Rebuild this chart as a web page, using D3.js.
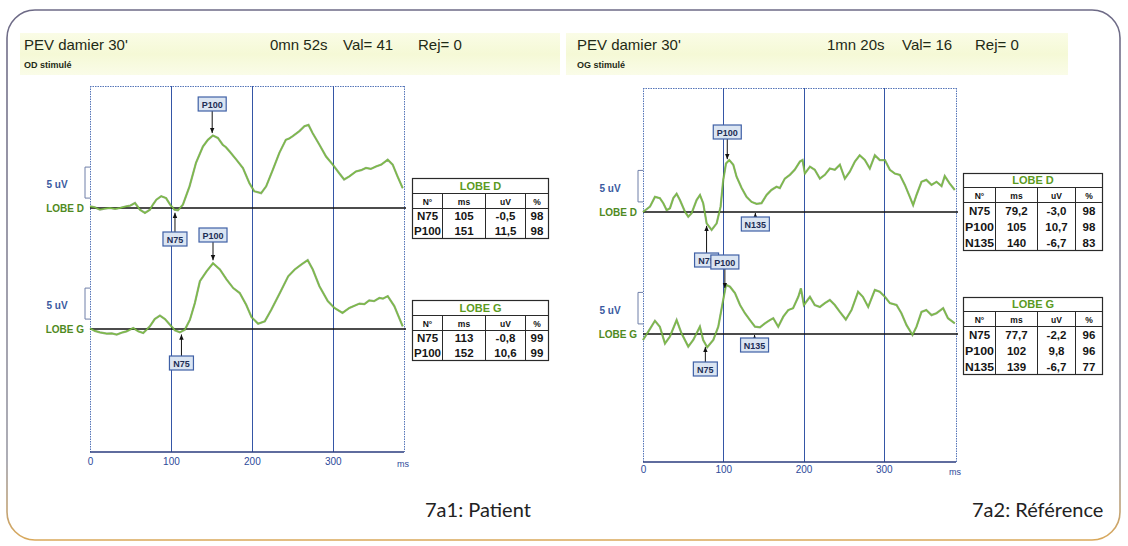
<!DOCTYPE html>
<html><head><meta charset="utf-8">
<script src="https://cdn.jsdelivr.net/npm/d3@7"></script>
<style>body{margin:0;background:#fff}svg{display:block}</style>
</head><body><svg id="c" width="1128" height="546"></svg>
<script>
// ---- Recording headers ----
const headerPatient = ["PEV damier 30'", "0mn 52s", "Val= 41", "Rej= 0", "OD stimulé"];
const headerReference = ["PEV damier 30'", "1mn 20s", "Val= 16", "Rej= 0", "OG stimulé"];
const captions = ["7a1: Patient", "7a2: Référence"];
const tickValues = [0, 100, 200, 300];
const tickUnit = "ms";
const channelNames = ["LOBE D", "LOBE G"];
const calibrationLabel = "5 uV";
const calibrationUv = 5;
const tableHeader = ["N°", "ms", "uV", "%"];

// ---- Peak tables (latency ms, amplitude uV, reproducibility %) ----
const tablePatientD = [["N75", "105", "-0,5", "98"], ["P100", "151", "11,5", "98"]];
const tablePatientG = [["N75", "113", "-0,8", "99"], ["P100", "152", "10,6", "99"]];
const tableReferenceD = [["N75", "79,2", "-3,0", "98"], ["P100", "105", "10,7", "98"], ["N135", "140", "-6,7", "83"]];
const tableReferenceG = [["N75", "77,7", "-2,2", "96"], ["P100", "102", "9,8", "96"], ["N135", "139", "-6,7", "77"]];

// ---- Averaged waveforms: [time ms, amplitude uV] ----
const wavePatientD = [[0,0.27],[6,0.1],[12.3,-0.27],[18,-0.1],[24.7,0],[31,-0.15],[37,0],[45,0.27],[50,0.4],[55.6,0.8],[61.7,-0.27],[67.9,-0.8],[74,-0.27],[78,0.6],[82,1.34],[88,1.9],[94,1.6],[99,0.54],[104.5,-0.27],[108.6,-0.38],[114.8,0.54],[123,3.5],[131,7.3],[139.5,9.9],[145.7,11.0],[151.9,11.7],[158,11.3],[164,10.2],[168,9.8],[172.6,9.1],[180.8,7.8],[189,6.45],[197,4.0],[203,2.7],[211.5,2.4],[217.7,3.5],[226,6.2],[234,8.9],[242,11.0],[246,11.2],[250.6,11.6],[258.8,12.4],[265,13.2],[270,13.4],[275,12.1],[283.5,10.2],[291.7,8.3],[300,7.0],[308,5.6],[314,4.6],[320.5,5.1],[328.7,5.9],[335,6.1],[341,6.45],[347,6.3],[353.5,6.7],[360,7.0],[367.9,7.8],[374,7.0],[380,5.1],[386.4,3.2]];
const wavePatientG = [[0,0.1],[6,-0.3],[12.3,-0.54],[20.6,-0.75],[27,-0.7],[33,-0.9],[39,-0.6],[45,-0.38],[53.5,0.16],[59.7,-0.38],[65.8,-0.65],[74,0.43],[80,1.6],[86.4,2.15],[92.6,1.6],[98.8,0.7],[104.9,-0.2],[111,-0.54],[117.3,-0.1],[123.5,1.5],[129.6,4.2],[135.8,7.7],[144,9.3],[152,10.6],[160.5,9.6],[168.7,8.0],[177,6.6],[185,5.8],[193,3.9],[199.6,1.9],[207.8,0.86],[216,1.24],[224,3.1],[234.6,5.8],[244.9,8.5],[253,9.6],[261,10.4],[269,11.1],[275.3,9.6],[283.5,6.9],[293.8,4.5],[302,3.4],[312,2.6],[320.5,3.4],[333,4.1],[339,4.0],[345,4.6],[351,4.5],[357.6,5.0],[362,4.9],[367.9,5.3],[376,3.7],[386.4,0.43]];
const waveReferenceD = [[0,0],[8.7,0.85],[14.9,2.4],[21,2.2],[25.3,1.4],[29.5,0.3],[33.6,0.6],[37.8,2.2],[41.9,2.9],[46,1.9],[52.3,0.05],[56.4,-0.74],[60.6,-0.2],[66.8,1.9],[71,2.7],[75,1.4],[79.3,-1.8],[85.5,-2.86],[91.8,-1.8],[96.7,0.85],[100,5.1],[103.4,7.7],[107.5,8.25],[112.5,7.5],[116.6,5.6],[122.9,3.8],[129,2.4],[135.3,1.6],[141.5,1.3],[147.7,1.4],[154,2.7],[160,3.5],[166.4,4.0],[170.5,3.8],[176.7,5.3],[183,5.9],[189,6.7],[195.5,8.0],[198.8,8.25],[201.7,6.1],[208,7.2],[214,6.7],[220.4,5.3],[226.6,5.9],[232.8,6.9],[239,6.7],[245.3,7.5],[251.5,5.3],[257.7,6.4],[264,8.0],[270,9.0],[276.4,8.25],[282.6,6.9],[288.9,9.0],[295,8.25],[301.4,8.25],[307.6,6.7],[313.8,6.1],[320,5.9],[326.3,4.3],[332.5,2.4],[336.6,1.1],[340.8,2.7],[347,4.8],[353,5.1],[359.5,4.3],[365.7,4.8],[372,4.1],[376,5.7],[382,4.55],[388.5,3.5]];
const waveReferenceG = [[0,-0.95],[6.6,0.37],[14.9,2.1],[21,1.16],[27.4,-1.5],[33.6,-0.4],[41.9,2.2],[48,0.1],[56.4,-2.0],[62.6,-0.95],[70.9,1.16],[75,-0.95],[80,-2.1],[87.6,-0.95],[93.8,1.16],[99.2,4.9],[103.4,7.8],[108.4,7.5],[114.6,6.5],[120.9,4.6],[127,3.3],[133.3,2.2],[139.5,1.16],[145.7,1.06],[152,1.7],[158,2.2],[162.3,2.5],[168.5,1.16],[174.8,2.75],[181,3.8],[187,4.1],[193.5,5.9],[196.8,7.25],[200.5,4.6],[208,5.9],[214,4.6],[220.4,4.3],[226.6,4.9],[232.8,5.4],[239,4.6],[245.3,3.5],[252.7,2.3],[259.8,3.8],[268,6.7],[274,5.9],[280.6,4.3],[288.9,7.0],[295,6.7],[301.4,5.9],[307.6,4.9],[315.9,4.6],[322,3.3],[328.4,1.4],[335.8,-0.16],[340.8,1.16],[347,3.5],[353,3.8],[359.5,3.0],[365.7,3.3],[374,4.1],[380,2.5],[388.5,1.7]];

// ---- Layout of the two recordings ----
const panels = [
  { header: headerPatient, caption: captions[0], waves: [wavePatientD, wavePatientG], tables: [tablePatientD, tablePatientG],
    band: [20, 560], textX: [24, 270, 343, 418],
    x0: 90, x1: 404, tMax: 388, top: 86, bottom: 452, base: [208, 329], pxUv: 6.2,
    tableX: 412, tableY: [178, 300], colW: [30, 43, 40, 23], titleH: 15, headH: 15, rowH: 15,
    boxY: [{ N75: 232, P100: 97 }, { N75: 356, P100: 228 }], tickY: 466, captionX: 425 },
  { header: headerReference, caption: captions[1], waves: [waveReferenceD, waveReferenceG], tables: [tableReferenceD, tableReferenceG],
    band: [566, 1068], textX: [577, 827, 902, 975],
    x0: 643, x1: 956, tMax: 390, top: 88, bottom: 462, base: [212, 334], pxUv: 6.3,
    tableX: 963, tableY: [173, 297], colW: [32, 42, 38, 27], titleH: 14, headH: 15, rowH: 16,
    boxY: [{ N75: 253, P100: 125, N135: 217 }, { N75: 362, P100: 255, N135: 338 }], tickY: 474, captionX: 972 }
];

const svg = d3.select("#c");
const defs = svg.append("defs");
const grad = defs.append("linearGradient").attr("id", "cardStroke").attr("x1", 0).attr("y1", 0).attr("x2", 0).attr("y2", 1);
grad.append("stop").attr("offset", "0%").attr("stop-color", "#6d6a86");
grad.append("stop").attr("offset", "85%").attr("stop-color", "#9a9aa4");
grad.append("stop").attr("offset", "100%").attr("stop-color", "#d9a85a");
const band = defs.append("linearGradient").attr("id", "bandFill").attr("x1", 0).attr("y1", 0).attr("x2", 0).attr("y2", 1);
band.append("stop").attr("offset", "0%").attr("stop-color", "#fafce6");
band.append("stop").attr("offset", "50%").attr("stop-color", "#f5f9d6");
band.append("stop").attr("offset", "100%").attr("stop-color", "#fafce8");
defs.append("marker").attr("id", "arrowHead").attr("viewBox", "0 0 8 8").attr("refX", 7).attr("refY", 4)
  .attr("markerWidth", 6).attr("markerHeight", 6).attr("orient", "auto")
  .append("path").attr("d", "M0,1 L7,4 L0,7 Z").attr("fill", "#111");

// card outline
svg.append("rect").attr("x", 7).attr("y", 10).attr("width", 1113).attr("height", 530)
  .attr("rx", 28).attr("fill", "#fff").attr("stroke", "url(#cardStroke)").attr("stroke-width", 1.6);

const FONT = "'Liberation Sans', Arial, sans-serif";
const crisp = v => Math.round(v) + 0.5;

function valueAt(wave, t) {
  for (let i = 1; i < wave.length; i++) {
    if (t <= wave[i][0]) {
      const [t0, v0] = wave[i - 1], [t1, v1] = wave[i];
      return v0 + (v1 - v0) * (t - t0) / (t1 - t0);
    }
  }
  return wave[wave.length - 1][1];
}
const num = s => +s.replace(",", ".");

function drawTable(g, x, y, p, title, rows) {
  const W = d3.sum(p.colW);
  const colX = d3.cumsum([0, ...p.colW]);
  const dataH = rows.length * p.rowH;
  const H = p.titleH + p.headH + dataH;
  const t = g.append("g").attr("transform", `translate(${x + 0.5},${y + 0.5})`);
  t.append("rect").attr("width", W).attr("height", H).attr("fill", "#fff").attr("stroke", "#2a2a2a").attr("stroke-width", 1.2);
  t.append("line").attr("x1", 0).attr("x2", W).attr("y1", p.titleH).attr("y2", p.titleH).attr("stroke", "#2a2a2a");
  t.append("line").attr("x1", 0).attr("x2", W).attr("y1", p.titleH + p.headH).attr("y2", p.titleH + p.headH).attr("stroke", "#2a2a2a");
  colX.slice(1, -1).forEach(cx => t.append("line").attr("x1", cx).attr("x2", cx).attr("y1", p.titleH).attr("y2", H).attr("stroke", "#2a2a2a"));
  t.append("text").attr("x", W / 2).attr("y", p.titleH - 3.5).attr("text-anchor", "middle")
    .attr("font-family", FONT).attr("font-weight", "bold").attr("font-size", 11).attr("fill", "#5b9a1e").text(title);
  tableHeader.forEach((h, i) => t.append("text").attr("x", colX[i] + p.colW[i] / 2).attr("y", p.titleH + p.headH - 4)
    .attr("text-anchor", "middle").attr("font-family", FONT).attr("font-weight", "bold").attr("font-size", 8.5).attr("fill", "#111").text(h));
  rows.forEach((r, ri) => r.forEach((c, ci) => t.append("text")
    .attr("x", colX[ci] + p.colW[ci] / 2).attr("y", p.titleH + p.headH + (ri + 1) * p.rowH - 3.5)
    .attr("text-anchor", "middle").attr("font-family", FONT).attr("font-weight", "bold").attr("font-size", 11.5)
    .attr("fill", "#151515").attr("textLength", ci === 0 && c.length > 3 ? p.colW[0] - 3 : null)
    .attr("lengthAdjust", "spacingAndGlyphs").text(c)));
}

panels.forEach(p => {
  const g = svg.append("g");
  const x = d3.scaleLinear().domain([0, p.tMax]).range([p.x0, p.x1]);

  // header band and texts
  g.append("rect").attr("x", p.band[0]).attr("y", 33).attr("width", p.band[1] - p.band[0]).attr("height", 42).attr("fill", "url(#bandFill)");
  p.header.slice(0, 4).forEach((s, i) => g.append("text").attr("x", p.textX[i]).attr("y", 50)
    .attr("font-family", FONT).attr("font-size", 15).attr("fill", "#1f2a16").text(s));
  g.append("text").attr("x", p.textX[0]).attr("y", 68).attr("font-family", FONT).attr("font-size", 9)
    .attr("font-weight", "bold").attr("fill", "#1f2a16").text(p.header[4]);

  // frame and grid
  const fr = g.append("g");
  fr.append("line").attr("x1", p.x0).attr("x2", p.x1).attr("y1", crisp(p.top)).attr("y2", crisp(p.top)).attr("stroke", "#5575b8").attr("stroke-dasharray", "1.5,1");
  [p.x0, p.x1].forEach(xx => fr.append("line").attr("x1", crisp(xx)).attr("x2", crisp(xx)).attr("y1", p.top).attr("y2", p.bottom).attr("stroke", "#5575b8").attr("stroke-dasharray", "1.5,1"));
  tickValues.slice(1).forEach(tv => fr.append("line").attr("x1", crisp(x(tv))).attr("x2", crisp(x(tv))).attr("y1", p.top).attr("y2", p.bottom).attr("stroke", "#3556a6").attr("stroke-width", 1));
  fr.append("line").attr("x1", p.x0).attr("x2", p.x1).attr("y1", p.bottom).attr("y2", p.bottom).attr("stroke", "#2a3b7e").attr("stroke-width", 1.6);

  // time axis
  const ax = g.append("g").attr("transform", `translate(0,${p.tickY - 8})`)
    .call(d3.axisBottom(x).tickValues(tickValues).tickSize(0).tickPadding(0).tickFormat(d3.format("d")));
  ax.select(".domain").remove();
  ax.selectAll(".tick line").remove();
  ax.selectAll("text").attr("font-family", FONT).attr("font-size", 10).attr("fill", "#2d4a9a").attr("dy", "0.71em");
  g.append("text").attr("x", p.x1 - 1).attr("y", p.tickY + 1).attr("text-anchor", "middle").attr("font-family", FONT)
    .attr("font-size", 9).attr("fill", "#2d4a9a").text(tickUnit);

  // channels
  p.waves.forEach((wave, k) => {
    const base = p.base[k];
    const y = d3.scaleLinear().domain([0, 1]).range([base, base - p.pxUv]);

    // calibration bracket
    const cb0 = y(1.6), cb1 = y(1.6 + calibrationUv);
    g.append("path").attr("d", `M${p.x0},${cb0} H${p.x0 - 5} V${cb1} H${p.x0}`).attr("fill", "none").attr("stroke", "#6f7fa8").attr("stroke-width", 1);
    g.append("text").attr("x", p.x0 - 33).attr("y", base - 20).attr("text-anchor", "middle").attr("font-family", FONT)
      .attr("font-weight", "bold").attr("font-size", 10).attr("fill", "#3a5aa0").text(calibrationLabel);
    g.append("text").attr("x", p.x0 - 6).attr("y", base + 3.5).attr("text-anchor", "end").attr("font-family", FONT)
      .attr("font-weight", "bold").attr("font-size", 10).attr("fill", "#4f8a22").text(channelNames[k]);

    // zero line
    g.append("line").attr("x1", p.x0).attr("x2", p.x1 + 2).attr("y1", base).attr("y2", base).attr("stroke", "#111").attr("stroke-width", 1.4);

    // waveform
    const line = d3.line().x(d => x(d[0])).y(d => y(d[1])).curve(d3.curveLinear);
    g.append("path").datum(wave).attr("d", line).attr("fill", "none").attr("stroke", "#3f6d24").attr("stroke-width", 2.2).attr("stroke-opacity", 0.55);
    g.append("path").datum(wave).attr("d", line).attr("fill", "none").attr("stroke", "#7cbc45").attr("stroke-width", 1.3);

    // peak markers
    p.tables[k].forEach(row => {
      const name = row[0], t = num(row[1]);
      const mx = x(t);
      const boxTop = p.boxY[k][name];
      const bw = name.length > 3 ? 28 : 24, bh = 14;
      const isPos = name[0] === "P";
      let y1, y2;
      if (isPos) { y1 = boxTop + bh; y2 = y(valueAt(wave, t)) - 3; }
      else if (name === "N135") { y1 = boxTop; y2 = base + 1; }
      else { y1 = boxTop; y2 = y(valueAt(wave, t)) + 3; }
      g.append("line").attr("x1", mx).attr("x2", mx).attr("y1", y1).attr("y2", y2)
        .attr("stroke", "#111").attr("stroke-width", 1).attr("marker-end", "url(#arrowHead)");
      g.append("rect").attr("x", mx - bw / 2).attr("y", boxTop).attr("width", bw).attr("height", bh)
        .attr("fill", "#dbe5f2").attr("stroke", "#3f60a6").attr("stroke-width", 1.2);
      g.append("text").attr("x", mx).attr("y", boxTop + 10.5).attr("text-anchor", "middle").attr("font-family", FONT)
        .attr("font-weight", "bold").attr("font-size", 9).attr("fill", "#1d2d55").text(name);
    });

    drawTable(g, p.tableX, p.tableY[k], p, channelNames[k], p.tables[k]);
  });

  g.append("text").attr("x", p.captionX).attr("y", 517).attr("font-family", "Lato, 'Open Sans', sans-serif")
    .attr("font-size", 20).attr("fill", "#222").text(p.caption);
});
</script></body></html>
